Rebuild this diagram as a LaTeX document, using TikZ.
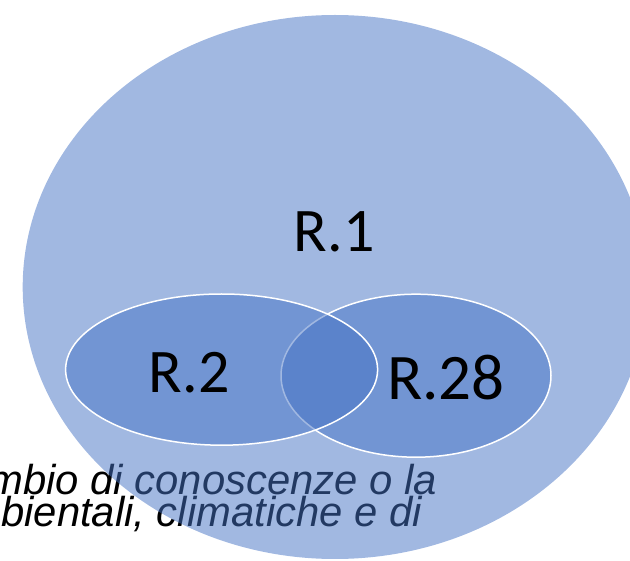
\documentclass[tikz,border=0pt]{standalone}
\usepackage{fontspec}
\setmainfont{Carlito}
\newfontfamily\arialfont{Liberation Sans}
\definecolor{vennblue}{HTML}{4472C4}
\tikzset{
  bigset/.style={fill=vennblue,fill opacity=0.5},
  venn/.style={fill=vennblue,fill opacity=0.5,draw=white,line width=1.5pt},
  rlabel/.style={anchor=base,inner sep=0pt,font=\fontsize{62}{62}\selectfont},
  note/.style={anchor=base east,inner sep=0pt,font=\arialfont\itshape\fontsize{41.8}{41.8}\selectfont}
}
\begin{document}
\begin{tikzpicture}[x=1pt,y=-1pt]

\useasboundingbox (0,0) rectangle (630,561);
\clip (0,0) rectangle (630,561);

\coordinate (C1) at (335,287);
\coordinate (C2) at (221.6,369.6);
\coordinate (C28) at (416,375.7);

% text lying behind the big set
\node[note] (line1) at (437,494.3) {mbio di conoscenze o la};
\node[note] (line2) at (422,526.7) {bientali, climatiche e di};

\fill[bigset] (C1) ellipse [x radius=312.3,y radius=272];
\draw[venn] (C28) ellipse [x radius=135,y radius=81.5];
\draw[venn] (C2) ellipse [x radius=156,y radius=75.6];

\node[rlabel] (r1) at (334,251.7) {R.1};
\node[rlabel] (r2) at (189.5,392.7) {R.2};
\node[rlabel,font=\fontsize{65}{65}\selectfont] (r28) at (446,400) {R.28};

\end{tikzpicture}
\end{document}
